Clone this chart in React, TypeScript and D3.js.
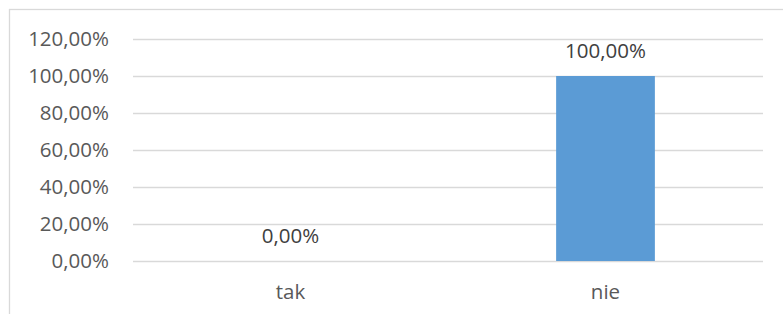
import { useEffect, useRef } from 'react';
import * as d3 from 'd3';

const categories = ["tak", "nie"];
const values = [0, 1];
const yTicks = [0, 0.2, 0.4, 0.6, 0.8, 1.0, 1.2];

const fmt = (v: number) => (v * 100).toFixed(2).replace(".", ",") + "%";

const App = () => {
  const ref = useRef<SVGSVGElement>(null);

  useEffect(() => {
    if (!ref.current) return;
    d3.select(ref.current).selectAll("*").remove();

    const width = 783;
    const height = 314;
    const font = "'Open Sans', 'Noto Sans', sans-serif";
    const fontSize = "20.5px";

    const svg = d3.select(ref.current)
      .attr("width", width)
      .attr("height", height);

    // chart area border (only top and left visible in the crop)
    svg.append("rect")
      .attr("x", 9.5)
      .attr("y", 9.5)
      .attr("width", width + 20)
      .attr("height", height + 20)
      .style("fill", "white")
      .style("stroke", "#d9d9d9")
      .style("stroke-width", 1.3);

    const y = d3.scaleLinear().domain([0, 1.2]).range([261, 39]);
    const x = d3.scaleBand<string>().domain(categories).range([133, 763]).padding(0);
    const barWidth = x.bandwidth() / (1 + 2.19);

    // gridlines
    svg.append("g")
      .selectAll("line")
      .data(yTicks)
      .enter()
      .append("line")
      .attr("x1", 133)
      .attr("x2", 763)
      .attr("y1", d => Math.round(y(d)) + 0.5)
      .attr("y2", d => Math.round(y(d)) + 0.5)
      .style("stroke", "#d9d9d9")
      .style("stroke-width", 1.3);

    // y tick labels
    svg.append("g")
      .selectAll("text")
      .data(yTicks)
      .enter()
      .append("text")
      .attr("x", 109)
      .attr("y", d => y(d))
      .attr("dy", "0.36em")
      .attr("text-anchor", "end")
      .style("font-family", font)
      .style("font-size", fontSize)
      .style("fill", "#595959")
      .text(d => fmt(d));

    // bars
    svg.append("g")
      .selectAll("rect")
      .data(values)
      .enter()
      .append("rect")
      .attr("x", (d, i) => (x(categories[i]) ?? 0) + (x.bandwidth() - barWidth) / 2)
      .attr("width", barWidth)
      .attr("y", d => y(d))
      .attr("height", d => y(0) - y(d))
      .style("fill", "#5b9bd5");

    // data labels
    svg.append("g")
      .selectAll("text")
      .data(values)
      .enter()
      .append("text")
      .attr("x", (d, i) => (x(categories[i]) ?? 0) + x.bandwidth() / 2)
      .attr("y", d => y(d) - 18)
      .attr("text-anchor", "middle")
      .style("font-family", font)
      .style("font-size", fontSize)
      .style("fill", "#404040")
      .text(d => fmt(d));

    // category labels
    svg.append("g")
      .selectAll("text")
      .data(categories)
      .enter()
      .append("text")
      .attr("x", d => (x(d) ?? 0) + x.bandwidth() / 2)
      .attr("y", 299)
      .attr("text-anchor", "middle")
      .style("font-family", font)
      .style("font-size", fontSize)
      .style("fill", "#595959")
      .text(d => d);
  }, []);

  return (
    <svg ref={ref} style={{ position: "absolute", left: 0, top: 0, display: "block" }}></svg>
  );
};

export default App;
